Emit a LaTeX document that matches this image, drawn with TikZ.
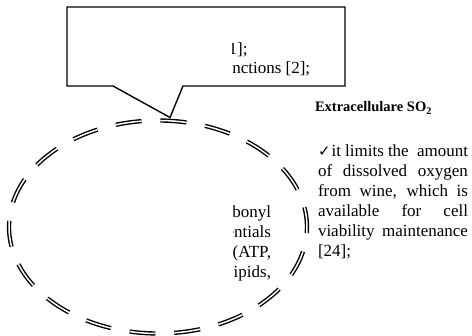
\documentclass[tikz,border=0pt]{standalone}
\usepackage{fontspec}
\setmainfont{Liberation Serif}
\newfontfamily\symfont{DejaVu Sans}
\usetikzlibrary{shapes.geometric,calc}
\hbadness=10000
\begin{document}
\begin{tikzpicture}[x=1pt,y=-1pt, every node/.style={inner sep=0pt, outer sep=0pt}]
\tikzset{
 bodytext/.style={font=\fontsize{17}{20}\selectfont},
 headtext/.style={font=\bfseries\fontsize{14.5}{17}\selectfont},
 outline/.style={draw=black, line width=1.4pt, line join=miter},
 dashring/.style={draw=black, line width=1.4pt, double=white, double distance=1.5pt, dash pattern=on 26pt off 18.9pt, dash phase=6pt},
}
\useasboundingbox (0,0) rectangle (472,336);
\fill[white] (0,0) rectangle (472,336);

% callout box
\node[minimum width=278pt, minimum height=79pt] (box) at (206,46.5) {};
\node[ellipse, dashring, minimum width=298pt, minimum height=213pt] (ring) at (158,227) {};
\coordinate (tip) at ($(ring.north)+(12,-3)$);
\draw[outline] (box.south west) -- (box.north west) -- (box.north east) -- (box.south east)
  -- ($(box.south east)+(-162,0)$) -- (tip) -- ($(box.south west)+(46,0)$) -- cycle;

% clipped text fragments
\begin{scope}
\clip (232,10) rectangle (340,84);
\node[bodytext, anchor=base east] (b1) at (247.5,55) {[1];};
\node[bodytext, anchor=base west] (b2) at (232.3,74) {nctions [2];};
\end{scope}
\begin{scope}
\clip (233,195) rectangle (290,290);
\node[bodytext, anchor=base east] (e1) at (271,218) {bonyl};
\node[bodytext, anchor=base east] (e2) at (271,238) {entials};
\node[bodytext, anchor=base east] (e3) at (271,258) {(ATP,};
\node[bodytext, anchor=base east] (e4) at (271,278) {lipids,};
\end{scope}

% right column
\node[headtext, anchor=base west] (head) at (315,112) {Extracellulare SO\textsubscript{2}};
\node[bodytext, anchor=base west] (para) at (318,157) {\parbox[t]{150pt}{\fontsize{17}{20}\selectfont
{\symfont\fontsize{15}{15}\selectfont ✓}\kern1pt it limits the\ \ amount\linebreak
of dissolved oxygen\linebreak
from wine, which is\linebreak
available for cell\linebreak
viability maintenance\linebreak\relax
[24];}};
\end{tikzpicture}
\end{document}
